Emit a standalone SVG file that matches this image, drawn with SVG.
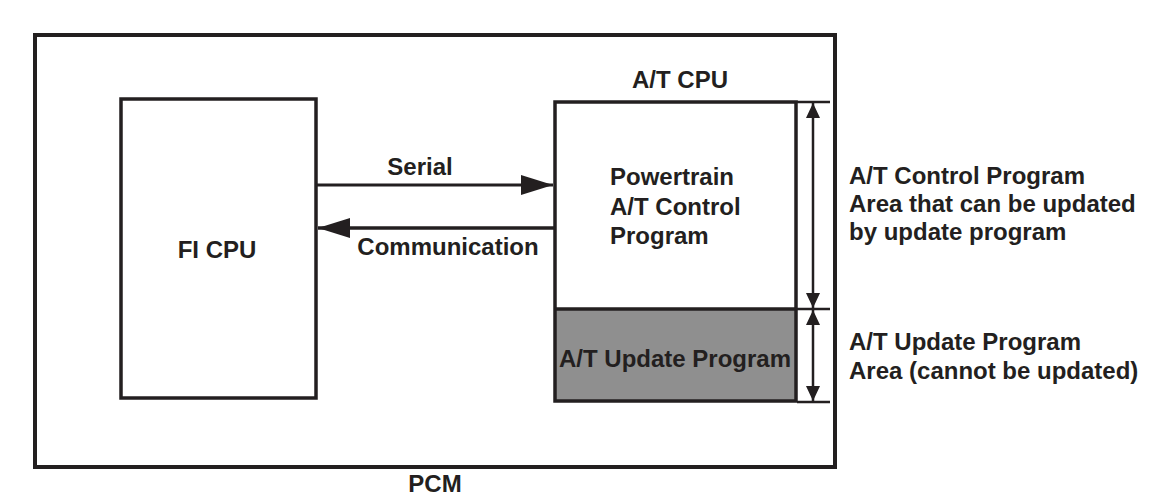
<svg xmlns="http://www.w3.org/2000/svg" width="1160" height="500" viewBox="0 0 1160 500">
<style>
text{font-family:"Liberation Sans",Arial,sans-serif;font-weight:bold;font-size:24px;fill:#231f20}
.box{fill:none;stroke:#231f20;stroke-width:3.5}
.ln{stroke:#231f20;fill:none}
</style>
<defs>
<marker id="bigHead" markerUnits="userSpaceOnUse" markerWidth="34" markerHeight="22" refX="32" refY="10" orient="auto-start-reverse" viewBox="0 0 34 22">
<path d="M0,0 L32,10 L0,20 z" fill="#231f20"/>
</marker>
<marker id="dimHead" markerUnits="userSpaceOnUse" markerWidth="16" markerHeight="16" refX="15" refY="7" orient="auto-start-reverse" viewBox="0 0 16 16">
<path d="M0,0 L15,7 L0,14 z" fill="#231f20"/>
</marker>
</defs>
<rect width="1160" height="500" fill="#ffffff"/>
<g id="pcm">
<rect x="35" y="35" width="800" height="432" fill="none" stroke="#231f20" stroke-width="4"/>
<text x="435" y="492" text-anchor="middle">PCM</text>
</g>
<g id="fi-cpu">
<rect class="box" x="121" y="99" width="195" height="299" fill="#fff"/>
<text x="217" y="258" text-anchor="middle">FI CPU</text>
</g>
<g id="at-cpu">
<text x="680" y="88" text-anchor="middle">A/T CPU</text>
<rect x="555" y="309" width="241" height="92" fill="#8f8f8f"/>
<rect class="box" x="555" y="102" width="241" height="299"/>
<line class="ln" x1="555" y1="309" x2="796" y2="309" stroke-width="3.5"/>
<text x="610" y="185">Powertrain</text>
<text x="610" y="215">A/T Control</text>
<text x="610" y="244">Program</text>
<text x="675" y="367" text-anchor="middle">A/T Update Program</text>
</g>
<g id="connectors">
<line class="ln" x1="316" y1="185" x2="553" y2="185" stroke-width="3" marker-end="url(#bigHead)"/>
<line class="ln" x1="555" y1="228" x2="318" y2="228" stroke-width="3.5" marker-end="url(#bigHead)"/>
<text x="420" y="175" text-anchor="middle">Serial</text>
<text x="448" y="255" text-anchor="middle">Communication</text>
<line class="ln" x1="797" y1="102" x2="830" y2="102" stroke-width="2.5"/>
<line class="ln" x1="797" y1="309" x2="830" y2="309" stroke-width="2.5"/>
<line class="ln" x1="797" y1="402" x2="830" y2="402" stroke-width="2.5"/>
<line class="ln" x1="813" y1="103" x2="813" y2="308" stroke-width="2.5" marker-start="url(#dimHead)" marker-end="url(#dimHead)"/>
<line class="ln" x1="813" y1="310" x2="813" y2="401" stroke-width="2.5" marker-start="url(#dimHead)" marker-end="url(#dimHead)"/>
</g>
<g id="labels">
<text x="849" y="184">A/T Control Program</text>
<text x="849" y="212">Area that can be updated</text>
<text x="849" y="240">by update program</text>
<text x="849" y="350">A/T Update Program</text>
<text x="849" y="379">Area (cannot be updated)</text>
</g>
</svg>
